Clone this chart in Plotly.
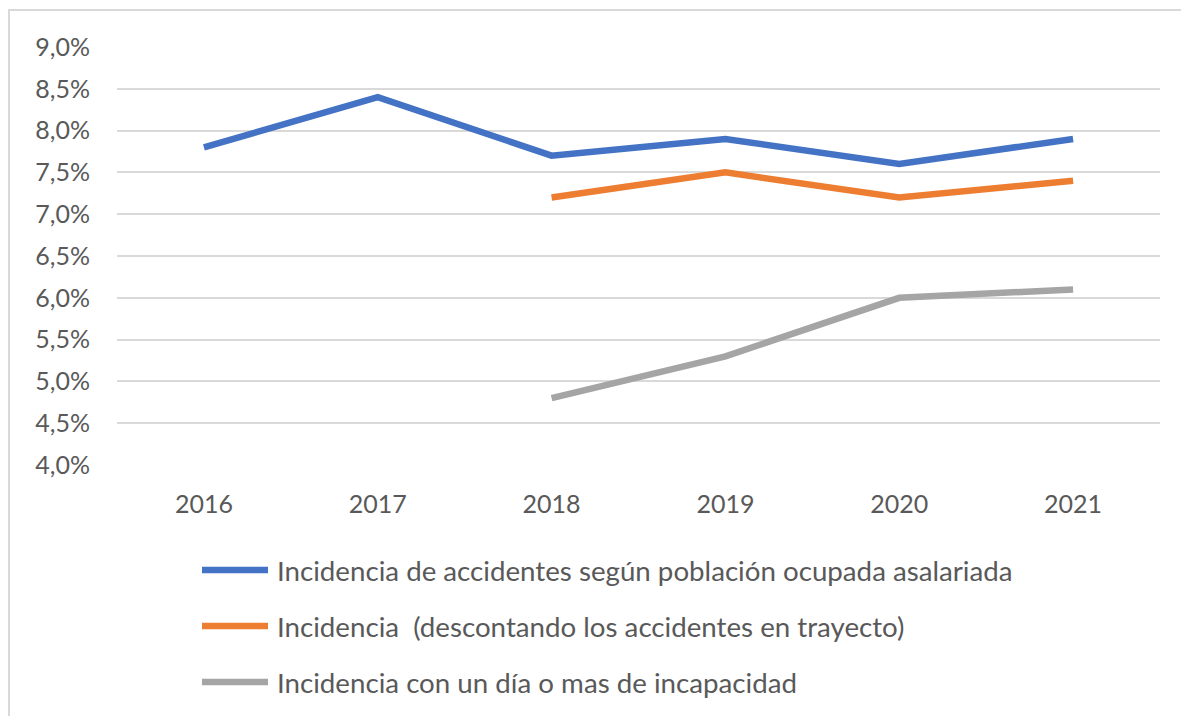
import plotly.graph_objects as go

years = ["2016", "2017", "2018", "2019", "2020", "2021"]
asalariada = [0.078, 0.084, 0.077, 0.079, 0.076, 0.079]
sin_trayecto = [None, None, 0.072, 0.075, 0.072, 0.074]
con_incapacidad = [None, None, 0.048, 0.053, 0.060, 0.061]
names = [
    "Incidencia de accidentes según población ocupada asalariada",
    "Incidencia  (descontando los accidentes en trayecto)",
    "Incidencia con un día o mas de incapacidad",
]
colors = ["#4472C4", "#ED7D31", "#A5A5A5"]
y_ticks = [0.04, 0.045, 0.05, 0.055, 0.06, 0.065, 0.07, 0.075, 0.08, 0.085, 0.09]

# page body has an 8px margin; work in figure coordinates
W, H = 1181, 708
L, R, T, B = 109, 29, 39, 251
pw, ph = W - L - R, H - T - B

def px_x(p):
    return (p - L) / pw

def px_y(p):
    return (H - B - p) / ph

fig = go.Figure()
for name, vals, c in zip(names, [asalariada, sin_trayecto, con_incapacidad], colors):
    fig.add_trace(go.Scatter(x=years, y=vals, name=name, mode="lines",
                             line=dict(color=c, width=6.5), showlegend=False))

font_family = "Lato, 'Open Sans', sans-serif"
text_color = "#595959"

border = dict(color="#d9d9d9", width=2)
shapes = [
    dict(type="line", xref="paper", yref="paper",
         x0=px_x(0), x1=px_x(W), y0=px_y(2), y1=px_y(2), line=border, layer="below"),
    dict(type="line", xref="paper", yref="paper",
         x0=px_x(1), x1=px_x(1), y0=px_y(1), y1=px_y(H), line=border, layer="below"),
]
annotations = []
legend_y = [562, 618, 674]
for name, c, yy in zip(names, colors, legend_y):
    shapes.append(dict(type="line", xref="paper", yref="paper",
                       x0=px_x(194), x1=px_x(260), y0=px_y(yy), y1=px_y(yy),
                       line=dict(color=c, width=6.5)))
    annotations.append(dict(xref="paper", yref="paper", x=px_x(267), y=px_y(yy),
                            text=name, showarrow=False, xanchor="left", yanchor="middle",
                            font=dict(family=font_family, size=27.7, color=text_color)))

fig.update_layout(
    width=W, height=H,
    margin=dict(l=L, r=R, t=T, b=B),
    paper_bgcolor="white", plot_bgcolor="white",
    separators=",.",
    font=dict(family=font_family, size=25, color=text_color),
    shapes=shapes, annotations=annotations,
    xaxis=dict(type="category", range=[-0.5, 5.5], showgrid=False, zeroline=False,
               showline=False, ticks="", ticklabelstandoff=22,
               tickfont=dict(size=25, color=text_color)),
    yaxis=dict(range=[0.04, 0.09], tickvals=y_ticks, tickformat=".1%",
               showgrid=True, gridcolor="#d9d9d9", gridwidth=2, zeroline=False,
               showline=False, ticks="", ticklabelstandoff=26,
               tickfont=dict(size=25, color=text_color)),
    showlegend=False,
)

fig.write_html("out.html")
